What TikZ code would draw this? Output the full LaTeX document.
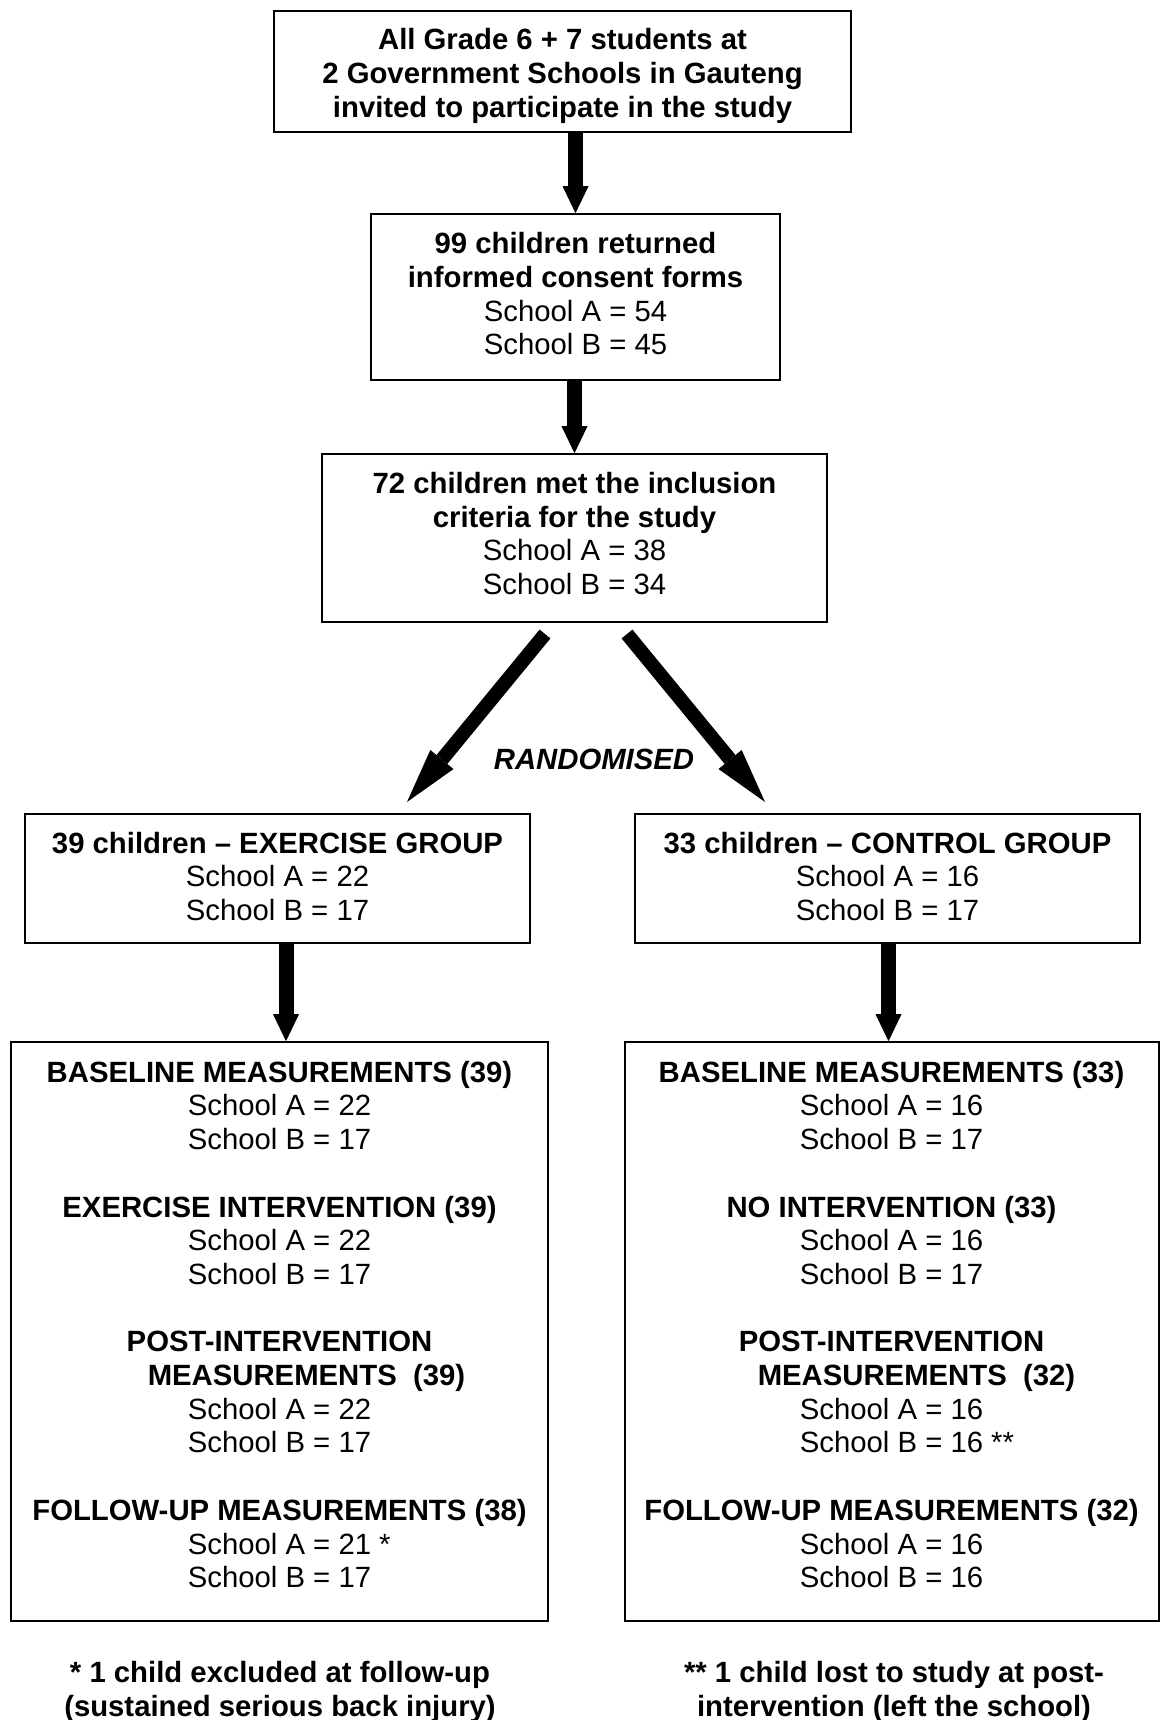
\documentclass[tikz,border=0pt]{standalone}
\usepackage{fontspec}
\setmainfont{Liberation Sans}
\usetikzlibrary{arrows.meta}
\begin{document}
\begin{tikzpicture}[x=1pt,y=-1pt,
  box/.style={draw=black, line width=1.6pt, inner sep=0pt},
  txt/.style={align=center, inner sep=0pt, font=\fontsize{29.3}{33.7}\selectfont},
  note/.style={align=center, inner sep=0pt, font=\fontsize{29.3}{33.7}\selectfont\bfseries},
  bigarrow/.style={line width=15pt, -{Triangle[width=26pt,length=27pt,line width=0pt]}},
  diagarrow/.style={line width=14pt, -{Triangle[width=30pt,length=55pt,line width=0pt]}},
  ]
\useasboundingbox (0,0) rectangle (1159,1720);
\fill[white] (0,0) rectangle (1159,1720);

\node[box, minimum width=577pt, minimum height=121pt] (b1) at (562.5,71.5) {};
\node[txt] (t1) at ([yshift=-4.4pt]b1.center)
  {\textbf{All Grade 6 + 7 students at}\\ \textbf{2 Government Schools in Gauteng}\\ \textbf{invited to participate in the study}};

\node[box, minimum width=409pt, minimum height=166pt] (b2) at (575.5,297) {};
\node[txt] (t2) at ([yshift=3.3pt]b2.center)
  {\textbf{99 children returned}\\ \textbf{informed consent forms}\\ School A = 54\\ School B = 45};

\node[box, minimum width=505pt, minimum height=168pt] (b3) at (574.5,538) {};
\node[txt] (t3) at ([yshift=4.4pt]b3.center)
  {\textbf{72 children met the inclusion}\\ \textbf{criteria for the study}\\ School A = 38\\ School B = 34};

\node[box, minimum width=505pt, minimum height=129pt] (b4L) at (277.5,878.5) {};
\node[txt] (t4L) at ([yshift=2.2pt]b4L.center)
  {\textbf{39 children -- EXERCISE GROUP}\\ School A = 22\\ School B = 17};

\node[box, minimum width=505pt, minimum height=129pt] (b4R) at (887.5,878.5) {};
\node[txt] (t4R) at ([yshift=2.2pt]b4R.center)
  {\textbf{33 children -- CONTROL GROUP}\\ School A = 16\\ School B = 17};

\node[box, minimum width=537pt, minimum height=579pt] (b5L) at (279.5,1331.5) {};
\node[txt] (t5L) at ([yshift=7pt]b5L.center)
  {\textbf{BASELINE MEASUREMENTS (39)}\\ School A = 22\\ School B = 17\\[33.7pt]
   \textbf{EXERCISE INTERVENTION (39)}\\ School A = 22\\ School B = 17\\[33.7pt]
   \textbf{POST-INTERVENTION}\\ \hspace*{54pt}\textbf{MEASUREMENTS\ \ (39)}\\ School A = 22\\ School B = 17\\[33.7pt]
   \textbf{FOLLOW-UP MEASUREMENTS (38)}\\ School A = 21\rlap{ *}\\ School B = 17};

\node[box, minimum width=534pt, minimum height=579pt] (b5R) at (892,1331.5) {};
\node[txt] (t5R) at ([yshift=7pt,xshift=-0.5pt]b5R.center)
  {\textbf{BASELINE MEASUREMENTS (33)}\\ School A = 16\\ School B = 17\\[33.7pt]
   \textbf{NO INTERVENTION (33)}\\ School A = 16\\ School B = 17\\[33.7pt]
   \textbf{POST-INTERVENTION}\\ \hspace*{50pt}\textbf{MEASUREMENTS\ \ (32)}\\ School A = 16\\ School B = 16\rlap{ **}\\[33.7pt]
   \textbf{FOLLOW-UP MEASUREMENTS (32)}\\ School A = 16\\ School B = 16};

\node[font=\fontsize{29.3}{33.7}\selectfont\bfseries\itshape, inner sep=0pt] (rnd) at (594,759) {RANDOMISED};

\node[note] (f1) at (280,1691.8) {* 1 child excluded at follow-up\\ (sustained serious back injury)};
\node[note] (f2) at (894,1691.8) {** 1 child lost to study at post-\\ intervention (left the school)};

% connectors
\draw[bigarrow] (b2.north |- b1.south) -- (b2.north);
\draw[bigarrow] (b3.north |- b2.south) -- (b3.north);

\coordinate (dL0) at (545,634);
\coordinate (dL1) at (407,802);
\coordinate (dR0) at (627,634);
\coordinate (dR1) at (765,802);
\draw[diagarrow] (dL0) -- (dL1);
\draw[diagarrow] (dR0) -- (dR1);

\draw[bigarrow] ([xshift=8.5pt]b4L.south) -- ([xshift=8.5pt]b4L.south |- b5L.north);
\draw[bigarrow] ([xshift=1pt]b4R.south) -- ([xshift=1pt]b4R.south |- b5R.north);
\end{tikzpicture}
\end{document}
